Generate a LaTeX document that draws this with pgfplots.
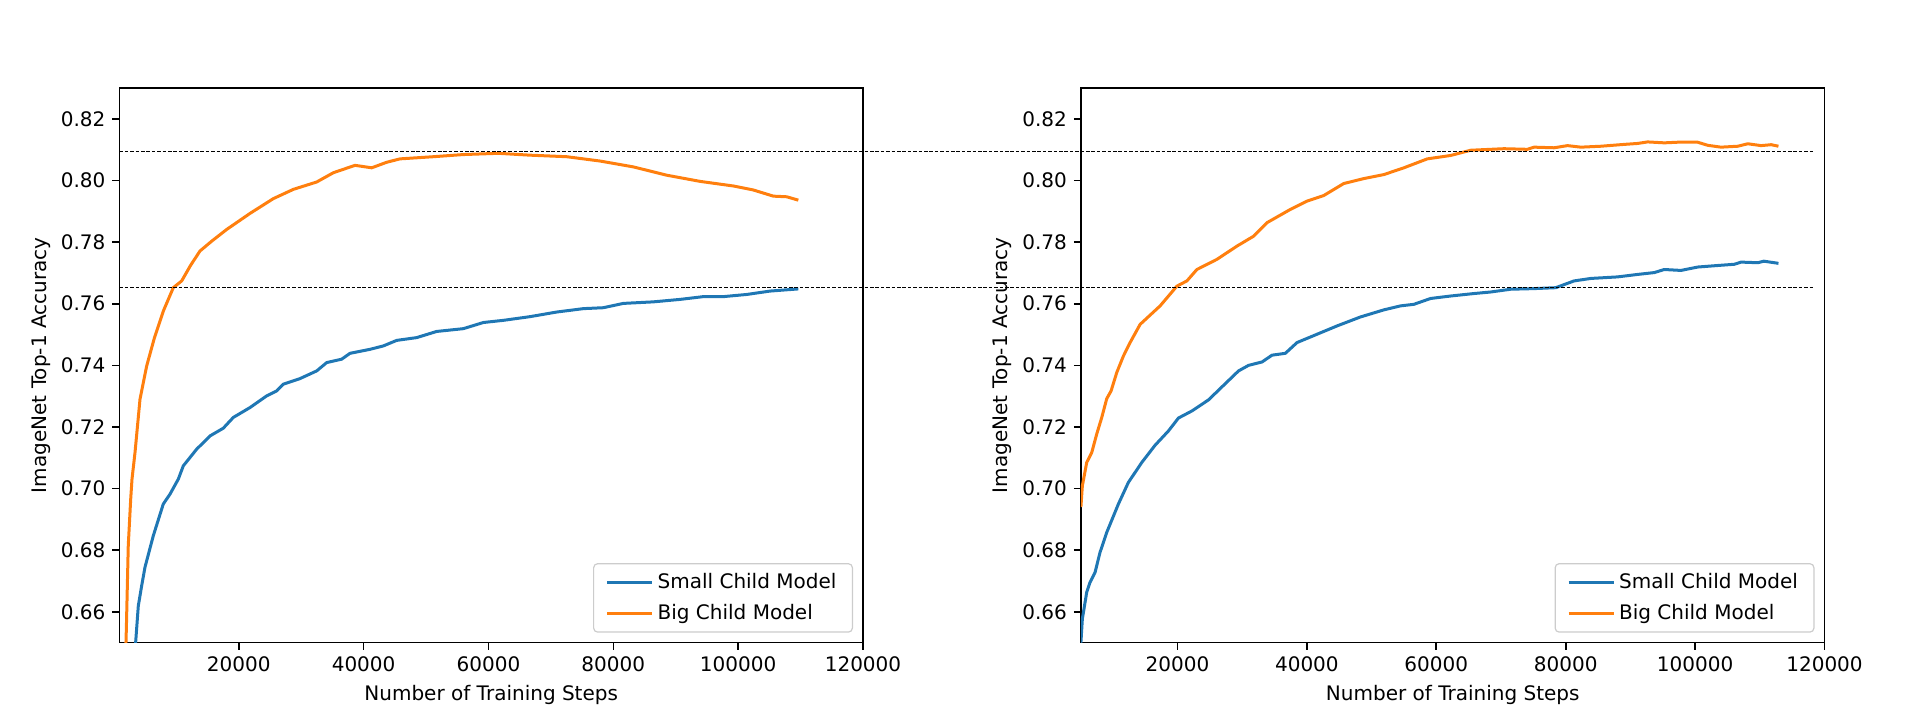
\documentclass[border=0pt]{standalone}
\usepackage{fontspec}
\setmainfont{DejaVu Sans}
\usepackage{pgfplots}
\pgfplotsset{compat=1.18}
\definecolor{tabblue}{HTML}{1F77B4}
\definecolor{taborange}{HTML}{FF7F0E}

\pgfplotsset{
  mystyle/.style={
    scale only axis, width=371.8pt, height=277.35pt,
    ymin=0.65, ymax=0.83, xmax=120000,
    ytick={0.66,0.68,0.70,0.72,0.74,0.76,0.78,0.80,0.82},
    xtick={20000,40000,60000,80000,100000,120000},
    tick align=outside, xtick pos=bottom, ytick pos=left,
    major tick length=3.5pt,
    tick style={line width=0.8pt, black},
    axis line style={line width=0.8pt, black},
    scaled x ticks=false, scaled y ticks=false,
    /pgf/number format/assume math mode=true,
    xticklabel style={/pgf/number format/.cd, fixed, 1000 sep={}},
    yticklabel style={/pgf/number format/.cd, fixed, fixed zerofill, precision=2},
    tick label style={font=\fontsize{10}{12}\selectfont},
    label style={font=\fontsize{10}{12}\selectfont},
    xlabel={Number of Training Steps}, ylabel={ImageNet Top-1 Accuracy},
    xlabel style={at={(axis description cs:0.5,-0.0937)}, anchor=center},
    ylabel style={at={(axis description cs:-0.1054,0.5)}, anchor=center},
    legend style={at={(1,0)}, anchor=south east, xshift=-5pt, yshift=5pt,
      draw=black!20, rounded corners=2pt, line width=0.6pt,
      font=\fontsize{10}{12}\selectfont, inner xsep=6pt, inner ysep=3pt, row sep=2pt},
    legend cell align=left,
    legend image code/.code={\draw[#1, line width=1.5pt] (0pt,0pt) -- (22.5pt,0pt);},
    every axis plot/.append style={line width=1.5pt, line join=round},
  }
}

\begin{document}
\begin{tikzpicture}
\path[use as bounding box] (0,0) rectangle (960pt,361pt);

\begin{axis}[mystyle, at={(59.7pt,39.65pt)}, anchor=south west, xmin=880]
\addplot[tabblue] coordinates {
(3300,0.645) (3910,0.662) (4450,0.6685) (4980,0.6745) (6310,0.6847) (7910,0.6950)
(8985,0.6982) (10320,0.7031) (11120,0.7074) (13260,0.7128) (15400,0.7171) (17520,0.7196)
(19130,0.7231) (21800,0.7263) (24480,0.7301) (26080,0.7317) (27140,0.7339) (29810,0.7357)
(32490,0.7382) (34090,0.7409) (36490,0.7420) (37820,0.7439) (41030,0.7452) (43160,0.7463)
(45300,0.7481) (48500,0.7490) (51710,0.7510) (55970,0.7519) (59180,0.7539) (62380,0.7546)
(66660,0.7558) (70930,0.7573) (75200,0.7584) (78400,0.7587) (81610,0.7601) (86410,0.7606)
(90700,0.7614) (94430,0.7623) (97630,0.7623) (101370,0.7630) (105110,0.7641) (109640,0.7648)
};
\addlegendentry{Small Child Model}
\addplot[taborange] coordinates {
(1800,0.640) (2000,0.655) (2300,0.6815) (2690,0.6966) (2900,0.7031) (3380,0.7117)
(4180,0.7290) (5250,0.7398) (6500,0.7490) (7913,0.7576) (9515,0.7652) (10860,0.7674)
(12300,0.7725) (13790,0.7771) (15670,0.7803) (18070,0.7841) (21800,0.7893) (25540,0.7941)
(28740,0.7971) (32490,0.7995) (35150,0.8025) (38620,0.8049) (41300,0.8041) (43700,0.8059)
(45830,0.8070) (51170,0.8077) (55970,0.8084) (61580,0.8088) (66660,0.8082) (72540,0.8077)
(77870,0.8063) (83200,0.8044) (88560,0.8017) (93890,0.7997) (99230,0.7982) (102440,0.7969)
(105640,0.7949) (107780,0.7947) (109640,0.7936)
};
\addlegendentry{Big Child Model}
\coordinate (a1) at (axis cs:880,0.8094);
\coordinate (a2) at (axis cs:880,0.7652);
\end{axis}

\begin{axis}[mystyle, at={(540.45pt,39.65pt)}, anchor=south west, xmin=5077]
\addplot[tabblue] coordinates {
(5077,0.650) (5300,0.6577) (5975,0.6664) (6490,0.6696) (7260,0.6728) (8030,0.6793)
(9070,0.6858) (10870,0.6950) (12410,0.7020) (14490,0.7085) (16550,0.7141) (18600,0.7187)
(20150,0.7229) (22230,0.7252) (24800,0.7288) (26870,0.7330) (29440,0.7382) (30990,0.7400)
(33070,0.7411) (34610,0.7433) (36670,0.7439) (38480,0.7474) (41580,0.7501) (44670,0.7528)
(48280,0.7557) (51890,0.7580) (54480,0.7593) (56530,0.7598) (59120,0.7617) (62220,0.7625)
(65820,0.7633) (68400,0.7638) (71500,0.7647) (75110,0.7649) (78470,0.7652) (81300,0.7674)
(83890,0.7682) (88020,0.7687) (91110,0.7695) (93690,0.7701) (95230,0.7711) (97820,0.7708)
(100400,0.7719) (103500,0.7724) (106070,0.7728) (107100,0.7735) (109690,0.7733) (110620,0.7738)
(112880,0.7731)
};
\addlegendentry{Small Child Model}
\addplot[taborange] coordinates {
(5077,0.694) (5300,0.7009) (5975,0.7085) (6750,0.7117) (7520,0.7177) (8300,0.7231)
(9070,0.7292) (9740,0.7317) (10620,0.7377) (11640,0.7430) (12680,0.7474) (14230,0.7533)
(17320,0.7593) (19910,0.7657) (21460,0.7674) (23000,0.7711) (26100,0.7744) (29200,0.7787)
(31760,0.7819) (33840,0.7863) (37450,0.7906) (40030,0.7933) (42600,0.7951) (45700,0.7990)
(48790,0.8006) (51890,0.8019) (54990,0.8041) (58610,0.8070) (62220,0.8081) (65310,0.8098)
(70460,0.8103) (74080,0.8101) (75110,0.8108) (78210,0.8106) (80280,0.8113) (82340,0.8108)
(85440,0.8111) (89050,0.8117) (91110,0.8120) (92660,0.8125) (95230,0.8122) (97300,0.8124)
(100400,0.8124) (101950,0.8114) (104000,0.8108) (106590,0.8111) (108140,0.8119) (110200,0.8113)
(111750,0.8116) (112880,0.8111)
};
\addlegendentry{Big Child Model}
\coordinate (b1) at (axis cs:118200,0.8094);
\coordinate (b2) at (axis cs:118200,0.7652);
\end{axis}

\draw[black, line width=0.5pt, dash pattern=on 1.8pt off 0.9pt] (a1) -- (b1);
\draw[black, line width=0.5pt, dash pattern=on 1.8pt off 0.9pt] (a2) -- (b2);
\end{tikzpicture}
\end{document}
